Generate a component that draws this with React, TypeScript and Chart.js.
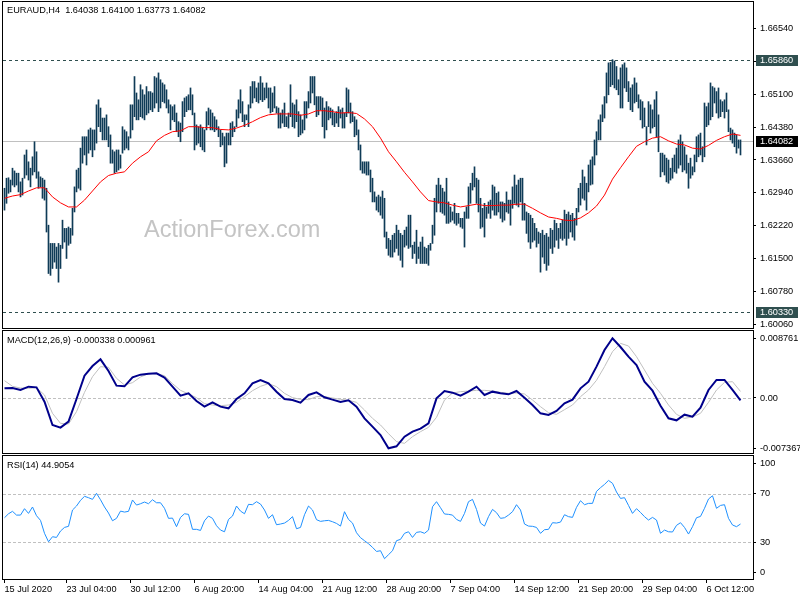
import React, { useEffect, useRef } from "react";
import { Chart, registerables } from "chart.js";

Chart.register(...registerables);

// ---------- DATA (EURAUD H4, one entry per bar) ----------
const highs = [
  1.6304,1.6326,1.6327,1.6322,1.6348,1.6342,1.6337,1.6337,1.6318,1.6326,
  1.6377,1.6388,1.6362,1.6348,1.6373,1.6406,1.6384,1.6340,1.6329,1.6326,
  1.6322,1.6304,1.6223,1.6183,1.6183,1.6183,1.6175,1.6183,1.6179,1.6234,
  1.6216,1.6216,1.6219,1.6216,1.6260,1.6307,1.6344,1.6348,1.6392,1.6417,
  1.6417,1.6417,1.6432,1.6436,1.6432,1.6432,1.6487,1.6498,1.6480,1.6458,
  1.6458,1.6465,1.6439,1.6421,1.6388,1.6384,1.6388,1.6388,1.6377,1.6439,
  1.6432,1.6428,1.6417,1.6487,1.6487,1.6549,1.6513,1.6498,1.6531,1.6520,
  1.6509,1.6527,1.6516,1.6516,1.6513,1.6549,1.6546,1.6557,1.6542,1.6535,
  1.6531,1.6520,1.6498,1.6487,1.6483,1.6487,1.6469,1.6450,1.6447,1.6494,
  1.6502,1.6505,1.6509,1.6524,1.6509,1.6469,1.6443,1.6439,1.6443,1.6436,
  1.6432,1.6472,1.6480,1.6476,1.6469,1.6461,1.6454,1.6439,1.6432,1.6425,
  1.6417,1.6425,1.6425,1.6447,1.6450,1.6439,1.6476,1.6498,1.6520,1.6494,
  1.6465,1.6465,1.6487,1.6527,1.6538,1.6538,1.6524,1.6535,1.6549,1.6535,
  1.6524,1.6535,1.6524,1.6524,1.6513,1.6527,1.6483,1.6480,1.6469,1.6476,
  1.6491,1.6461,1.6469,1.6531,1.6491,1.6487,1.6498,1.6472,1.6465,1.6454,
  1.6494,1.6494,1.6516,1.6549,1.6549,1.6549,1.6505,1.6505,1.6505,1.6502,
  1.6480,1.6494,1.6483,1.6480,1.6476,1.6469,1.6472,1.6483,1.6476,1.6480,
  1.6469,1.6524,1.6520,1.6491,1.6472,1.6461,1.6454,1.6432,1.6399,1.6362,
  1.6362,1.6362,1.6362,1.6344,1.6326,1.6296,1.6285,1.6289,1.6285,1.6298,
  1.6282,1.6208,1.6194,1.6190,1.6201,1.6205,1.6223,1.6212,1.6205,1.6201,
  1.6212,1.6219,1.6245,1.6245,1.6179,1.6186,1.6212,1.6175,1.6186,1.6197,
  1.6175,1.6172,1.6179,1.6183,1.6223,1.6282,1.6311,1.6326,1.6311,1.6304,
  1.6296,1.6326,1.6274,1.6263,1.6252,1.6271,1.6249,1.6249,1.6238,1.6238,
  1.6252,1.6263,1.6307,1.6315,1.6337,1.6351,1.6326,1.6322,1.6282,1.6260,
  1.6271,1.6263,1.6274,1.6278,1.6311,1.6307,1.6293,1.6296,1.6274,1.6274,
  1.6271,1.6296,1.6278,1.6278,1.6307,1.6333,1.6311,1.6322,1.6326,1.6326,
  1.6271,1.6252,1.6249,1.6245,1.6238,1.6227,1.6216,1.6208,1.6205,1.6212,
  1.6201,1.6205,1.6197,1.6216,1.6212,1.6234,1.6227,1.6216,1.6227,1.6234,
  1.6256,1.6247,1.6252,1.6245,1.6249,1.6238,1.6260,1.6304,1.6315,1.6344,
  1.6329,1.6315,1.6355,1.6366,1.6373,1.6410,1.6428,1.6454,1.6465,1.6487,
  1.6505,1.6557,1.6579,1.6580,1.6586,1.6583,1.6571,1.6542,1.6568,1.6575,
  1.6579,1.6568,1.6538,1.6524,1.6531,1.6546,1.6535,1.6509,1.6498,1.6494,
  1.6480,1.6439,1.6494,1.6487,1.6476,1.6498,1.6516,1.6465,1.6381,1.6381,
  1.6377,1.6370,1.6366,1.6348,1.6370,1.6377,1.6392,1.6410,1.6421,1.6406,
  1.6395,1.6377,1.6359,1.6370,1.6351,1.6377,1.6417,1.6421,1.6425,1.6395,
  1.6491,1.6483,1.6491,1.6535,1.6527,1.6524,1.6516,1.6524,1.6498,1.6494,
  1.6498,1.6513,1.6476,1.6436,1.6432,1.6425,1.6421,1.6410,1.6410,
];
const lows = [
  1.6256,1.6271,1.6293,1.6296,1.6311,1.6307,1.6311,1.6296,1.6285,1.6289,
  1.6326,1.6333,1.6322,1.6307,1.6333,1.6340,1.6326,1.6304,1.6307,1.6282,
  1.6278,1.6208,1.6117,1.6113,1.6128,1.6142,1.6128,1.6098,1.6128,1.6172,
  1.6186,1.6150,1.6179,1.6183,1.6201,1.6252,1.6296,1.6304,1.6300,1.6359,
  1.6377,1.6355,1.6381,1.6388,1.6373,1.6388,1.6403,1.6439,1.6428,1.6410,
  1.6410,1.6410,1.6395,1.6359,1.6359,1.6337,1.6340,1.6344,1.6348,1.6381,
  1.6388,1.6392,1.6388,1.6414,1.6432,1.6461,1.6454,1.6454,1.6461,1.6458,
  1.6454,1.6465,1.6469,1.6476,1.6472,1.6480,1.6491,1.6472,1.6480,1.6494,
  1.6491,1.6480,1.6469,1.6432,1.6454,1.6450,1.6428,1.6417,1.6406,1.6428,
  1.6461,1.6472,1.6476,1.6476,1.6465,1.6388,1.6399,1.6403,1.6395,1.6388,
  1.6384,1.6432,1.6443,1.6432,1.6432,1.6428,1.6432,1.6417,1.6395,1.6399,
  1.6351,1.6359,1.6399,1.6399,1.6417,1.6428,1.6439,1.6458,1.6469,1.6450,
  1.6439,1.6454,1.6439,1.6480,1.6491,1.6502,1.6494,1.6491,1.6498,1.6494,
  1.6498,1.6502,1.6480,1.6469,1.6472,1.6480,1.6469,1.6436,1.6436,1.6447,
  1.6439,1.6439,1.6436,1.6461,1.6439,1.6436,1.6450,1.6417,1.6421,1.6425,
  1.6432,1.6458,1.6480,1.6491,1.6513,1.6487,1.6461,1.6465,1.6476,1.6439,
  1.6414,1.6432,1.6454,1.6458,1.6443,1.6439,1.6447,1.6439,1.6458,1.6436,
  1.6436,1.6461,1.6469,1.6447,1.6450,1.6417,1.6421,1.6388,1.6344,1.6337,
  1.6337,1.6333,1.6333,1.6296,1.6274,1.6274,1.6256,1.6252,1.6245,1.6238,
  1.6197,1.6172,1.6157,1.6153,1.6153,1.6164,1.6172,1.6157,1.6146,1.6131,
  1.6175,1.6179,1.6172,1.6175,1.6150,1.6161,1.6139,1.6150,1.6139,1.6139,
  1.6139,1.6139,1.6135,1.6168,1.6183,1.6201,1.6252,1.6271,1.6252,1.6249,
  1.6245,1.6227,1.6227,1.6230,1.6234,1.6227,1.6223,1.6227,1.6219,1.6216,
  1.6175,1.6238,1.6238,1.6271,1.6300,1.6307,1.6271,1.6252,1.6216,1.6219,
  1.6197,1.6238,1.6249,1.6238,1.6256,1.6245,1.6245,1.6252,1.6238,1.6230,
  1.6234,1.6252,1.6249,1.6223,1.6260,1.6271,1.6267,1.6263,1.6274,1.6234,
  1.6234,1.6205,1.6186,1.6172,1.6186,1.6190,1.6175,1.6183,1.6120,1.6153,
  1.6139,1.6124,1.6135,1.6172,1.6161,1.6175,1.6190,1.6172,1.6194,1.6190,
  1.6194,1.6179,1.6194,1.6208,1.6197,1.6190,1.6223,1.6252,1.6267,1.6282,
  1.6278,1.6256,1.6296,1.6311,1.6313,1.6355,1.6377,1.6410,1.6410,1.6450,
  1.6458,1.6491,1.6509,1.6527,1.6531,1.6524,1.6520,1.6509,1.6480,1.6480,
  1.6524,1.6516,1.6494,1.6476,1.6472,1.6491,1.6494,1.6480,1.6454,1.6436,
  1.6439,1.6399,1.6439,1.6425,1.6436,1.6439,1.6417,1.6384,1.6329,1.6340,
  1.6333,1.6318,1.6315,1.6322,1.6326,1.6340,1.6337,1.6348,1.6355,1.6340,
  1.6344,1.6337,1.6304,1.6326,1.6333,1.6340,1.6362,1.6373,1.6377,1.6362,
  1.6373,1.6439,1.6443,1.6454,1.6461,1.6491,1.6469,1.6458,1.6461,1.6472,
  1.6458,1.6472,1.6428,1.6410,1.6403,1.6395,1.6381,1.6392,1.6377,
];

// moving average, one value every maStep bars
const maStep = 4;
const maValues = [
  1.6282,1.6287,1.6290,1.6298,1.6305,1.6305,1.6285,1.6272,1.6263,1.6263,
  1.6278,1.6298,1.6318,1.6332,1.6337,1.6340,1.6359,1.6373,1.6384,1.6408,
  1.6420,1.6428,1.6430,1.6439,1.6439,1.6437,1.6437,1.6433,1.6432,1.6436,
  1.6442,1.6450,1.6459,1.6465,1.6467,1.6467,1.6467,1.6464,1.6467,1.6474,
  1.6474,1.6472,1.6469,1.6470,1.6468,1.6456,1.6439,1.6414,1.6384,1.6362,
  1.6339,1.6318,1.6296,1.6277,1.6274,1.6272,1.6267,1.6263,1.6266,1.6269,
  1.6266,1.6266,1.6267,1.6267,1.6269,1.6269,1.6260,1.6250,1.6241,1.6238,
  1.6234,1.6233,1.6239,1.6250,1.6265,1.6289,1.6324,1.6349,1.6373,1.6396,
  1.6406,1.6414,1.6417,1.6408,1.6401,1.6399,1.6392,1.6390,1.6398,1.6409,
  1.6417,1.6423,1.6420,
];

// MACD(12,26,9), one value every macdStep bars
const macdStep = 4;
const macdMain = [
  0.001418,0.001466,0.001173,0.001662,0.001564,-0.000538,-0.003959,-0.004350,-0.003470,-0.000147,
  0.003275,0.004692,0.005670,0.003959,0.001809,0.001711,0.003031,0.003422,0.003568,0.003617,
  0.002982,0.001662,0.000342,0.000684,-0.000440,-0.001271,-0.000635,-0.001271,-0.001515,-0.000147,
  0.000684,0.002151,0.002640,0.002151,0.000929,-0.000147,-0.000293,-0.000684,0.000440,0.000831,
  0.000098,-0.000244,-0.000587,-0.000342,-0.001271,-0.002982,-0.004204,-0.005426,-0.007367,-0.007088,
  -0.005670,-0.004937,-0.004497,-0.003715,-0.000049,0.001026,0.000782,0.000342,0.000929,0.001662,
  0.000440,0.000929,0.000684,0.000538,0.001026,0.000049,-0.001026,-0.002248,-0.002493,-0.001906,
  -0.000782,-0.000244,0.001418,0.002395,0.004595,0.007039,0.008761,0.007479,0.006061,0.004839,
  0.002395,0.001075,-0.001124,-0.002982,-0.003275,-0.002444,-0.002737,-0.001418,0.001173,0.002640,
  0.002640,0.001173,-0.000338,
];
const macdSignal = [
  0.002542,0.001711,0.001466,0.001418,0.001515,0.000440,-0.002248,-0.003715,-0.003813,-0.002004,
  0.000831,0.003128,0.004595,0.004497,0.002884,0.001906,0.002248,0.003079,0.003568,0.003568,
  0.003275,0.002102,0.001124,0.000587,0.000049,-0.000831,-0.001026,-0.001124,-0.001026,-0.000635,
  0.000196,0.001075,0.001711,0.002102,0.001662,0.000684,0.000049,-0.000196,-0.000244,0.000196,
  0.000196,0.000000,-0.000196,-0.000342,-0.000635,-0.001760,-0.002982,-0.003959,-0.005230,-0.006403,
  -0.006648,-0.005670,-0.004937,-0.004301,-0.002835,-0.000293,0.000733,0.000929,0.001026,0.001124,
  0.001124,0.001026,0.000831,0.000684,0.000733,0.000587,-0.000293,-0.001271,-0.002151,-0.002395,
  -0.001711,-0.001026,0.000196,0.001173,0.002591,0.004595,0.006794,0.008016,0.007625,0.006061,
  0.004106,0.002151,0.000684,-0.001026,-0.002395,-0.002982,-0.002786,-0.002248,-0.000635,0.001173,
  0.002297,0.002395,0.000961,
];

// RSI(14), one value every rsiStep bars
const rsiStep = 2;
const rsiValues = [
  50.1,53.4,55.4,52.3,52.3,57.6,53.7,59.0,51.8,47.9,
  37.2,30.2,34.4,33.8,39.1,42.1,43.0,56.5,59.8,64.5,
  67.8,66.7,65.3,70.3,65.0,59.0,54.0,47.6,49.6,55.6,
  54.8,55.4,64.8,60.6,61.7,63.1,61.7,65.0,62.5,62.5,
  57.9,49.6,49.8,42.7,50.4,53.4,52.9,40.5,40.5,39.6,
  47.6,51.5,49.6,43.5,39.9,38.5,48.7,51.5,59.8,55.6,
  53.4,61.2,60.9,63.4,61.4,56.5,49.6,52.6,44.3,44.9,
  45.7,47.9,51.0,41.0,42.1,52.6,59.8,56.5,48.5,47.1,
  47.6,47.9,46.8,45.4,43.2,55.1,48.7,45.7,37.7,33.6,
  31.1,28.6,25.6,22.2,22.8,16.2,19.5,22.8,31.1,32.2,
  37.2,38.5,33.8,38.0,38.5,37.2,39.9,59.2,63.4,58.4,
  53.2,52.9,52.3,48.7,47.1,53.7,63.4,65.3,57.0,45.7,
  43.2,51.0,57.0,54.3,49.6,50.1,52.3,55.1,60.9,56.5,
  44.9,43.2,43.0,42.1,37.2,40.2,40.5,46.0,45.7,46.5,
  52.6,51.0,50.4,58.7,64.2,60.9,62.0,62.0,71.9,75.0,
  77.7,81.0,78.6,71.4,66.1,66.7,60.3,53.7,57.6,54.5,
  51.0,48.2,50.4,48.2,37.2,39.9,38.5,38.3,43.8,46.0,
  42.1,36.6,42.7,50.1,51.2,57.9,65.6,68.3,57.9,60.3,
  60.9,49.6,44.1,42.7,44.9,
];

// axis / reference values
const priceTicks = [1.6006, 1.6078, 1.615, 1.6222, 1.6294, 1.6366, 1.6438, 1.651, 1.6582, 1.6654];
const resistanceLevel = 1.6586;
const supportLevel = 1.6033;
const lastPrice = 1.64082;
const macdTicks = [-0.007367, 0, 0.008761];
const rsiLevels = [100, 70, 30, 0];
const rsiDashedLevels = [70, 30];
const timeTickBars = [0, 31, 63, 95, 127, 159, 191, 223, 255, 287, 319, 351];
const timeTickLabels = [
  "15 Jul 2020", "23 Jul 04:00", "30 Jul 12:00", "6 Aug 20:00", "14 Aug 04:00", "21 Aug 12:00",
  "28 Aug 20:00", "7 Sep 04:00", "14 Sep 12:00", "21 Sep 20:00", "29 Sep 04:00", "6 Oct 12:00",
];
const headerText = "EURAUD,H4  1.64038 1.64100 1.63773 1.64082";
const macdText = "MACD(12,26,9) -0.000338 0.000961";
const rsiText = "RSI(14) 44.9054";
const watermarkText = "ActionForex.com";

// ---------- STYLE ----------
const FAMILY = '"Liberation Sans", Arial, sans-serif';
const FSIZE = 9.2;
const BAR_COLOR = "#0f3b57";
const X_MIN = -0.75;
const X_MAX = 374.25;
const AXIS_W = 47;

const fixWidth = (s: any) => {
  s.width = AXIS_W;
  s.paddingTop = 0;
  s.paddingBottom = 0;
};
const rsiLabelPos = (v: number) => (v >= 100 ? v - 4.8 : v <= 0 ? v + 4.6 : v);

const panePlugin = {
  id: "pane",
  beforeDatasetsDraw(chart: any, _args: any, opts: any) {
    const { ctx, chartArea: a, scales } = chart;
    ctx.save();
    if (opts.watermark) {
      ctx.font = `23.5px ${FAMILY}`;
      ctx.fillStyle = "#c4c4c4";
      ctx.textBaseline = "alphabetic";
      ctx.fillText(opts.watermark, 144, 237);
    }
    (opts.lines || []).forEach((l: any) => {
      const y = Math.round(scales.y.getPixelForValue(l.value)) + 0.5;
      ctx.beginPath();
      ctx.setLineDash(l.dash || []);
      ctx.strokeStyle = l.color;
      ctx.lineWidth = 1;
      ctx.moveTo(a.left, y);
      ctx.lineTo(a.right, y);
      ctx.stroke();
    });
    ctx.restore();
  },
  afterDraw(chart: any, _args: any, opts: any) {
    const { ctx, chartArea: a, scales } = chart;
    ctx.save();
    ctx.setLineDash([]);
    ctx.strokeStyle = "#000";
    ctx.lineWidth = 1;
    ctx.strokeRect(a.left - 0.5, a.top - 0.5, a.right - a.left + 1, a.bottom - a.top + 1);
    ctx.font = `${FSIZE}px ${FAMILY}`;
    ctx.textBaseline = "middle";
    if (opts.title) {
      ctx.fillStyle = "#000";
      ctx.fillText(opts.title, 7, opts.titleY);
    }
    (opts.boxes || []).forEach((b: any) => {
      const y = Math.round(scales.y.getPixelForValue(b.value));
      ctx.fillStyle = b.bg;
      ctx.fillRect(a.right + 3, y - 5, 42, 11);
      ctx.fillStyle = "#fff";
      ctx.fillText(b.value.toFixed(5), a.right + 7, y + 0.5);
    });
    ctx.restore();
  },
};

const yAxis = (min: number, max: number, values: number[], fmt: (v: number) => string) => ({
  position: "right",
  min,
  max,
  afterFit: fixWidth,
  afterBuildTicks: (s: any) => { s.ticks = values.map((v) => ({ value: v })); },
  ticks: {
    callback: (v: any) => fmt(Number(v)),
    color: "#000",
    font: { family: FAMILY, size: FSIZE },
    padding: 4,
    autoSkip: false,
  },
  grid: { drawOnChartArea: false, drawTicks: true, tickLength: 3, color: "#000" },
  border: { display: true, color: "#000" },
});

const hiddenX = {
  type: "linear",
  min: X_MIN,
  max: X_MAX,
  offset: false,
  display: false,
};

const baseOptions = {
  animation: false,
  responsive: false,
  maintainAspectRatio: false,
  events: [],
};

export default function App() {
  const mainRef = useRef<HTMLCanvasElement>(null);
  const macdRef = useRef<HTMLCanvasElement>(null);
  const rsiRef = useRef<HTMLCanvasElement>(null);

  useEffect(() => {
    const charts: Chart[] = [];

    charts.push(
      new Chart(mainRef.current as HTMLCanvasElement, {
        type: "bar",
        data: {
          datasets: [
            {
              type: "line",
              data: maValues.map((v, k) => ({ x: k * maStep, y: v })),
              borderColor: "#ff0000",
              borderWidth: 1,
              pointRadius: 0,
              tension: 0,
              order: 1,
            } as any,
            {
              type: "bar",
              data: highs.map((h, i) => ({ x: i, y: [lows[i], h] })),
              backgroundColor: BAR_COLOR,
              barThickness: 1,
              borderWidth: 0,
              order: 2,
            } as any,
          ],
        },
        options: {
          ...baseOptions,
          layout: { padding: { left: 3, top: 2, right: 0, bottom: 3 } },
          plugins: {
            legend: { display: false },
            tooltip: { enabled: false },
            pane: {
              title: headerText,
              titleY: 10.5,
              watermark: watermarkText,
              lines: [
                { value: lastPrice, color: "#c0c0c0", dash: [] },
                { value: resistanceLevel, color: "#2f4f4f", dash: [3, 3] },
                { value: supportLevel, color: "#2f4f4f", dash: [3, 3] },
              ],
              boxes: [
                { value: resistanceLevel, bg: "#2f4f4f" },
                { value: lastPrice, bg: "#000000" },
                { value: supportLevel, bg: "#2f4f4f" },
              ],
            },
          } as any,
          scales: {
            x: hiddenX,
            y: yAxis(1.59975, 1.67125, priceTicks, (v) => v.toFixed(5)),
          } as any,
        },
        plugins: [panePlugin],
      } as any)
    );

    charts.push(
      new Chart(macdRef.current as HTMLCanvasElement, {
        type: "line",
        data: {
          datasets: [
            {
              data: macdMain.map((v, k) => ({ x: k * macdStep, y: v })),
              borderColor: "#00008b",
              borderWidth: 2,
              pointRadius: 0,
              tension: 0,
              order: 1,
            },
            {
              data: macdSignal.map((v, k) => ({ x: k * macdStep, y: v })),
              borderColor: "#c0c0c0",
              borderWidth: 1,
              pointRadius: 0,
              tension: 0,
              order: 2,
            },
          ],
        },
        options: {
          ...baseOptions,
          layout: { padding: { left: 3, top: 2, right: 0, bottom: 2 } },
          plugins: {
            legend: { display: false },
            tooltip: { enabled: false },
            pane: {
              title: macdText,
              titleY: 11,
              lines: [{ value: 0, color: "#c0c0c0", dash: [3, 2] }],
            },
          } as any,
          scales: {
            x: hiddenX,
            y: yAxis(-0.008065, 0.009824, macdTicks, (v) => (v === 0 ? "0.00" : v.toFixed(6))),
          } as any,
        },
        plugins: [panePlugin],
      } as any)
    );

    charts.push(
      new Chart(rsiRef.current as HTMLCanvasElement, {
        type: "line",
        data: {
          datasets: [
            {
              data: rsiValues.map((v, k) => ({ x: k * rsiStep, y: v })),
              borderColor: "#1e90ff",
              borderWidth: 1,
              pointRadius: 0,
              tension: 0,
            },
          ],
        },
        options: {
          ...baseOptions,
          layout: { padding: { left: 3, top: 1, right: 0, bottom: 0 } },
          plugins: {
            legend: { display: false },
            tooltip: { enabled: false },
            pane: {
              title: rsiText,
              titleY: 10.5,
              lines: rsiDashedLevels.map((v) => ({ value: v, color: "#c0c0c0", dash: [3, 2] })),
            },
          } as any,
          scales: {
            x: {
              type: "linear",
              min: X_MIN,
              max: X_MAX,
              offset: false,
              position: "bottom",
              afterBuildTicks: (s: any) => { s.ticks = timeTickBars.map((v) => ({ value: v })); },
              afterFit: (s: any) => {
                s.height = 21;
                s.paddingLeft = 0;
                s.paddingRight = 0;
              },
              ticks: {
                callback: (v: any) => timeTickLabels[timeTickBars.indexOf(Number(v))],
                align: "start",
                maxRotation: 0,
                minRotation: 0,
                autoSkip: false,
                padding: 1,
                color: "#000",
                font: { family: FAMILY, size: FSIZE },
              },
              grid: { drawOnChartArea: false, drawTicks: true, tickLength: 4, color: "#000" },
              border: { display: false },
            },
            y: yAxis(-0.6, 101.2, rsiLevels.map(rsiLabelPos), (v) => {
              const idx = rsiLevels.map(rsiLabelPos).indexOf(v);
              return idx >= 0 ? String(rsiLevels[idx]) : "";
            }),
          } as any,
        },
        plugins: [panePlugin],
      } as any)
    );

    return () => charts.forEach((c) => c.destroy());
  }, []);

  return (
    <div style={{ position: "absolute", left: 0, top: 0, width: 800, height: 600, background: "#fff" }}>
      <canvas ref={mainRef} width={800} height={331} style={{ position: "absolute", left: 0, top: 0 }} />
      <canvas ref={macdRef} width={800} height={126} style={{ position: "absolute", left: 0, top: 329 }} />
      <canvas ref={rsiRef} width={800} height={145} style={{ position: "absolute", left: 0, top: 455 }} />
    </div>
  );
}
